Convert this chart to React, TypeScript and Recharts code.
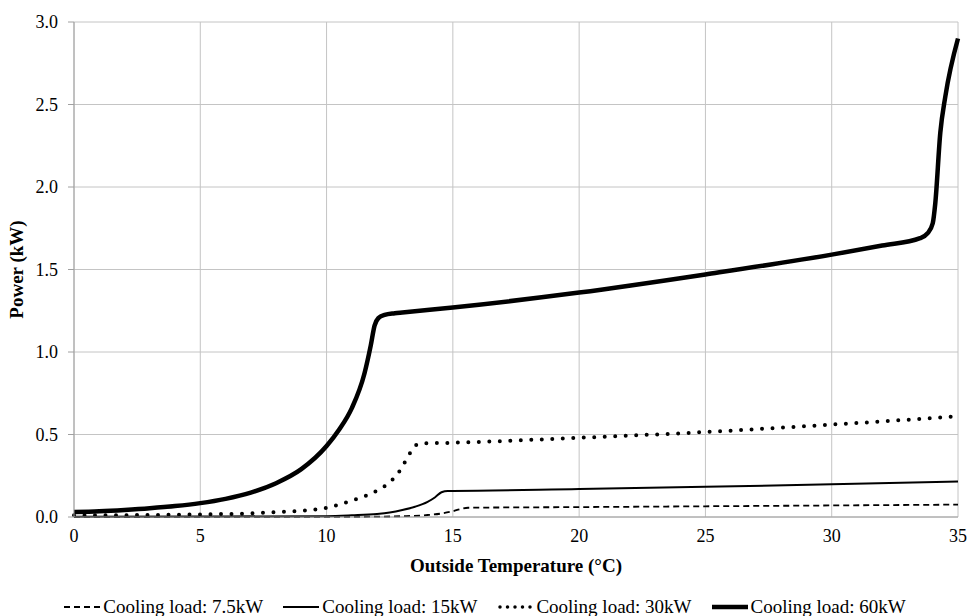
import React from 'react';
import {
  LineChart, Line, XAxis, YAxis, CartesianGrid, Legend
} from 'recharts';

// Outside temperature (°C) and power (kW), one pair per cooling load
const temp75 = [0, 10, 12, 13, 14, 14.5, 15, 15.3, 15.6, 20, 25, 30, 35];
const power75 = [0, 0.001, 0.002, 0.005, 0.012, 0.02, 0.035, 0.048, 0.056, 0.06, 0.065, 0.07, 0.075];

const temp15 = [0, 5, 10, 11, 12, 12.5, 13, 13.5, 14, 14.3, 14.55, 14.8, 15, 20, 25, 30, 35];
const power15 = [0.002, 0.003, 0.005, 0.01, 0.018, 0.027, 0.042, 0.062, 0.092, 0.12, 0.15, 0.158, 0.158, 0.17, 0.183, 0.198, 0.215];

const temp30 = [0, 2, 4, 6, 7, 8, 9, 10, 11, 11.5, 12, 12.5, 12.9, 13.2, 13.45, 13.65, 15, 20, 25, 30, 35];
const power30 = [0.01, 0.011, 0.014, 0.018, 0.022, 0.03, 0.038, 0.055, 0.1, 0.125, 0.16, 0.21, 0.28, 0.36, 0.42, 0.445, 0.45, 0.48, 0.515, 0.56, 0.61];

const temp60 = [0, 1, 2, 3, 4, 5, 6, 7, 8, 9, 10, 10.5, 11, 11.5, 11.75, 11.9, 12.05, 12.3, 12.7, 13, 15, 20, 25, 30, 32, 33.5, 33.8, 34, 34.1, 34.3, 34.5, 35];
const power60 = [0.03, 0.035, 0.043, 0.053, 0.066, 0.084, 0.11, 0.148, 0.205, 0.29, 0.43, 0.53, 0.66, 0.87, 1.04, 1.16, 1.205, 1.225, 1.235, 1.24, 1.27, 1.36, 1.47, 1.59, 1.645, 1.69, 1.72, 1.78, 1.9, 2.33, 2.55, 2.9];

const xTicks = [0, 5, 10, 15, 20, 25, 30, 35];
const yTicks = [0, 0.5, 1.0, 1.5, 2.0, 2.5, 3.0];

const toPoints = (t: number[], p: number[]) => t.map((x, i) => ({ t: x, p: p[i] }));

const series = [
  { name: 'Cooling load: 7.5kW', data: toPoints(temp75, power75), width: 1.8, dash: '6 4', legendDash: '6 4', cap: 'butt' as const },
  { name: 'Cooling load: 15kW', data: toPoints(temp15, power15), width: 2, dash: undefined, legendDash: undefined, cap: 'butt' as const },
  { name: 'Cooling load: 30kW', data: toPoints(temp30, power30), width: 4, dash: '0 10.5', legendDash: '0 7.5', cap: 'round' as const },
  { name: 'Cooling load: 60kW', data: toPoints(temp60, power60), width: 4.5, dash: undefined, legendDash: undefined, cap: 'butt' as const },
];

const FONT = '"Liberation Serif", "Times New Roman", serif';

const LegendContent = () => (
  <div style={{ display: 'flex', justifyContent: 'center', alignItems: 'center', height: 30, fontFamily: FONT, fontSize: 19, color: '#000' }}>
    {series.map((s, i) => (
      <div key={s.name} style={{ display: 'flex', alignItems: 'center', marginLeft: i === 0 ? 0 : 20 }}>
        <svg width={36} height={10} style={{ marginRight: 3 }}>
          <line x1={s.cap === 'round' ? 3 : 0} y1={5} x2={s.cap === 'round' ? 34 : 36} y2={5}
            stroke="#000" strokeWidth={s.cap === 'round' ? 3.5 : s.width} strokeDasharray={s.legendDash} strokeLinecap={s.cap} />
        </svg>
        <span>{s.name}</span>
      </div>
    ))}
  </div>
);

export default function App() {
  return (
    <div style={{ position: 'absolute', left: 0, top: 0, width: 970, height: 616, background: '#fff', overflow: 'hidden' }}>
      <style>{`svg text, svg tspan { font-family: "Liberation Serif", "Times New Roman", serif !important; }`}</style>
      <LineChart width={970} height={616} margin={{ top: 22, right: 12, left: 0, bottom: 14 }} style={{ fontFamily: FONT }}>
        <CartesianGrid stroke="#c4c4c4" strokeWidth={1} />
        <XAxis
          type="number"
          dataKey="t"
          domain={[0, 35]}
          ticks={xTicks}
          allowDuplicatedCategory={false}
          height={55}
          tickLine={false}
          tickSize={6}
          tickMargin={6}
          stroke="#a0a0a0"
          tick={{ fill: '#000', fontSize: 18, style: { fontFamily: FONT } }}
          label={{ value: 'Outside Temperature (°C)', position: 'insideBottom', offset: 0, style: { fill: '#000', fontSize: 19, fontWeight: 'bold', fontFamily: FONT } }}
        />
        <YAxis
          type="number"
          dataKey="p"
          domain={[0, 3]}
          ticks={yTicks}
          width={74}
          tickSize={6}
          tickMargin={10}
          stroke="#a0a0a0"
          tickFormatter={(v: number) => v.toFixed(1)}
          tick={{ fill: '#000', fontSize: 18, style: { fontFamily: FONT } }}
          label={{ value: 'Power (kW)', angle: -90, position: 'insideLeft', offset: 16, style: { textAnchor: 'middle', fill: '#000', fontSize: 19, fontWeight: 'bold', fontFamily: FONT } }}
        />
        <Legend verticalAlign="bottom" content={<LegendContent />} wrapperStyle={{ top: 592, left: 0, width: 970 }} />
        {series.map((s) => (
          <Line
            key={s.name}
            data={s.data}
            dataKey="p"
            name={s.name}
            type="monotone"
            stroke="#000"
            strokeWidth={s.width}
            strokeDasharray={s.dash}
            strokeLinecap={s.cap}
            dot={false}
            activeDot={false}
            isAnimationActive={false}
          />
        ))}
      </LineChart>
    </div>
  );
}
